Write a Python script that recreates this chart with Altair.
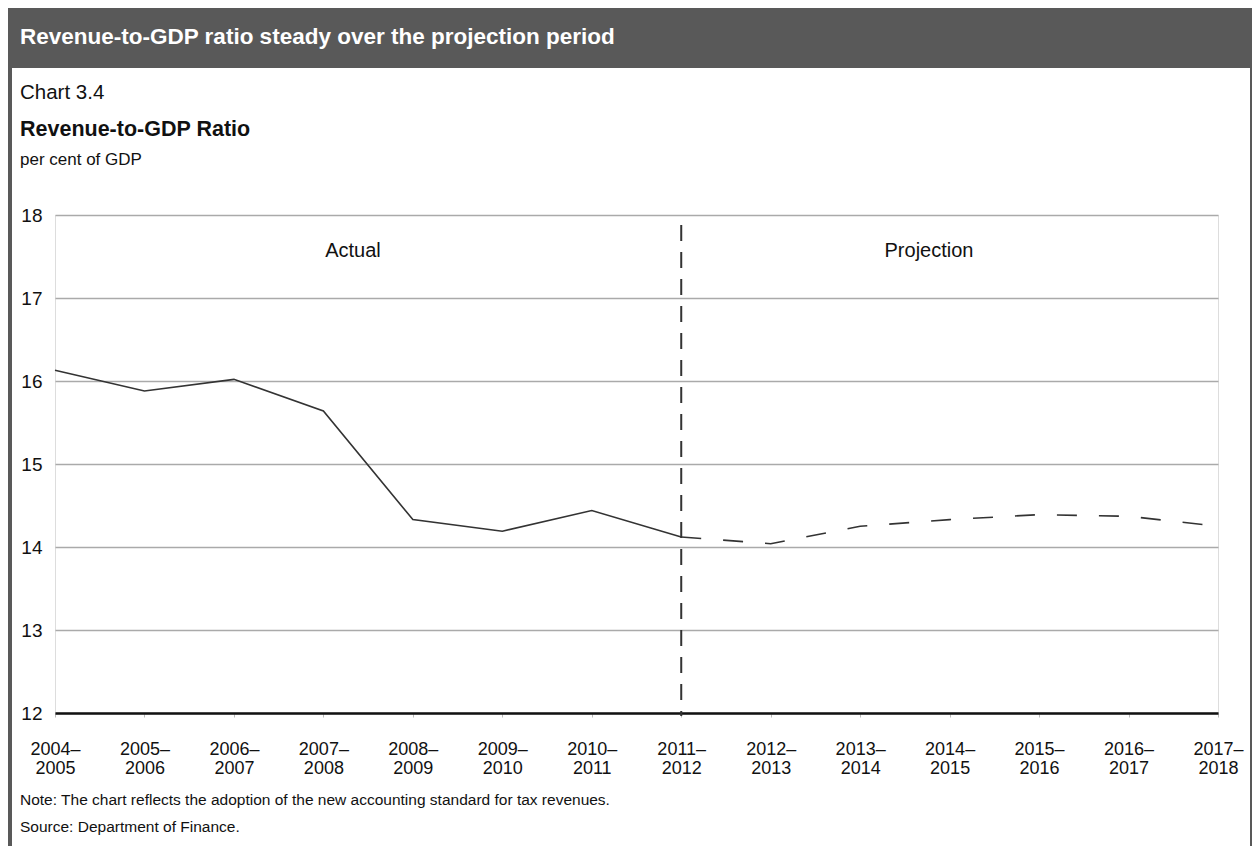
import altair as alt
import pandas as pd

# ---- data ----
years = ["2004–2005", "2005–2006", "2006–2007", "2007–2008", "2008–2009",
         "2009–2010", "2010–2011", "2011–2012", "2012–2013", "2013–2014",
         "2014–2015", "2015–2016", "2016–2017", "2017–2018"]
actual_years = years[:8]
actual_values = [16.13, 15.88, 16.02, 15.64, 14.33, 14.19, 14.44, 14.12]
proj_years = years[7:]
proj_values = [14.12, 14.04, 14.25, 14.33, 14.39, 14.37, 14.25]
y_ticks = [12, 13, 14, 15, 16, 17, 18]
split_year = "2011–2012"

header_title = "Revenue-to-GDP ratio steady over the projection period"
chart_no = "Chart 3.4"
chart_title = "Revenue-to-GDP Ratio"
unit_label = "per cent of GDP"
note = "Note: The chart reflects the adoption of the new accounting standard for tax revenues."
source = "Source: Department of Finance."
period_labels = ["Actual", "Projection"]

FONT = "Liberation Sans"
NARROW = "Liberation Sans Narrow, Liberation Sans"

W, H = 1163, 498
PL, PT, PR, PB = 47, 207, 34, 133

df_a = pd.DataFrame({"year": actual_years, "value": actual_values})
df_p = pd.DataFrame({"year": proj_years, "value": proj_values})
df_split = pd.DataFrame({"year": [split_year]})

xscale = alt.Scale(type="point", domain=years, padding=0)
yscale = alt.Scale(domain=[12, 18], nice=False, zero=False)

xenc = alt.X("year:O", scale=xscale, sort=years,
             axis=alt.Axis(title=None, labelAngle=0, labelFontSize=18, labelFont=FONT,
                           labelColor="#111", labelLineHeight=19, labelPadding=23,
                           tickSize=4, tickColor="#bbbbbb", tickWidth=1,
                           domainColor="#111", domainWidth=2.5, grid=False,
                           labelExpr="[split(datum.label, '–')[0] + '–', split(datum.label, '–')[1]]"))
yenc = alt.Y("value:Q", scale=yscale,
             axis=alt.Axis(title=None, values=y_ticks, format="d", labelFontSize=19,
                           labelFont=FONT, labelColor="#111", labelPadding=13,
                           ticks=False, domain=False,
                           grid=True, gridColor="#aaaaaa", gridWidth=1.5))

axes = alt.Chart(df_a).mark_line(opacity=0).encode(x=xenc, y=yenc)

line_a = alt.Chart(df_a).mark_line(color="#333333", strokeWidth=1.6).encode(
    x=alt.X("year:O", scale=xscale, sort=years), y=alt.Y("value:Q", scale=yscale))
line_p = alt.Chart(df_p).mark_line(color="#333333", strokeWidth=1.6, strokeDash=[20, 22]).encode(
    x=alt.X("year:O", scale=xscale, sort=years), y=alt.Y("value:Q", scale=yscale))

vline = alt.Chart(df_split).mark_rule(color="#333333", strokeWidth=2, strokeDash=[16, 11]).encode(
    x=alt.X("year:O", scale=xscale, sort=years), y=alt.value(10), y2=alt.value(H + 3))


def txt(s, x, y, size, color="#111", weight="normal", font=FONT, align="left", baseline="alphabetic"):
    return alt.Chart(pd.DataFrame({"t": [s]})).mark_text(
        fontSize=size, color=color, fontWeight=weight, font=font, align=align, baseline=baseline
    ).encode(text="t:N", x=alt.value(x), y=alt.value(y))


one = pd.DataFrame({"a": [0]})
header = alt.Chart(one).mark_rect(color="#595959").encode(
    x=alt.value(-PL), x2=alt.value(W + PR), y=alt.value(-PT), y2=alt.value(60 - PT))
left_border = alt.Chart(one).mark_rule(color="#595959", strokeWidth=4).encode(
    x=alt.value(-PL + 2), y=alt.value(60 - PT), y2=alt.value(H + PB))
right_border = alt.Chart(one).mark_rule(color="#595959", strokeWidth=2).encode(
    x=alt.value(W + PR - 1), y=alt.value(60 - PT), y2=alt.value(H + PB))

OX, OY = 55, 215  # page position of the plot origin (reference)
texts = [
    txt(header_title, 20 - OX, 44 - OY, 22.5, color="white", weight="bold"),
    txt(chart_no, 20 - OX, 99 - OY, 20.5),
    txt(chart_title, 20 - OX, 136 - OY, 21.5, weight="bold"),
    txt(unit_label, 20 - OX, 165 - OY, 17),
    txt(period_labels[0], 353 - OX, 251 - OY, 20, align="center", baseline="middle"),
    txt(period_labels[1], 929 - OX, 251 - OY, 20, align="center", baseline="middle"),
    txt(note, 20 - OX, 805 - OY, 15.5, font=NARROW),
    txt(source, 20 - OX, 832 - OY, 15.5, font=NARROW),
]

chart = alt.layer(axes, vline, line_a, line_p, header, left_border, right_border, *texts).properties(
    width=W, height=H,
    autosize=alt.AutoSizeParams(type="none"),
    padding={"left": PL, "top": PT, "right": PR, "bottom": PB},
).configure_view(stroke=None).configure(background="white")

chart.save("out.html", embed_options={"renderer": "svg", "actions": False})
